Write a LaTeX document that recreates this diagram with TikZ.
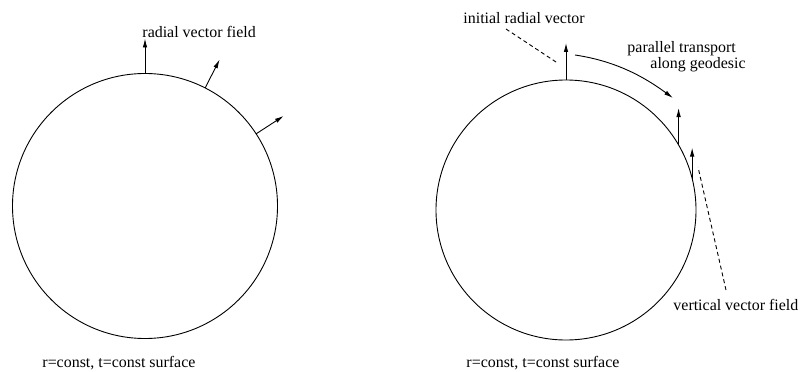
\documentclass[tikz,border=0pt]{standalone}
\usepackage{fontspec}
\setmainfont{Liberation Serif}
\usetikzlibrary{arrows.meta}

\begin{document}
\begin{tikzpicture}[
    x=1bp, y=1bp,
    line width=0.9bp,
    font=\fontsize{16}{19}\selectfont,
    surf/.style = {draw, circle, inner sep=0pt, outer sep=0pt},
    lbl/.style  = {inner sep=0pt, anchor=base west},
    arr/.style  = {-{Latex[length=9bp, width=4.5bp]}},
    lead/.style = {dash pattern=on 4bp off 3bp},
]
\useasboundingbox (0,0) rectangle (800,371);

% ============ left: radial vector field ============
\node[surf, minimum size=265bp] (lsurf) at (145,165) {};

\coordinate (ltop) at ([shift={(90:35)}]lsurf.90);
\coordinate (lmid) at ([shift={(63:32)}]lsurf.63);
\coordinate (lrgt) at ([shift={(33:33)}]lsurf.33);

\draw[arr] (lsurf.90) -- (ltop);
\draw[arr] (lsurf.63) -- (lmid);
\draw[arr] (lsurf.33) -- (lrgt);

\node[lbl] (lradial) at (142,334) {radial vector field};
\node[lbl] (lsurflbl) at (42,4) {r=const, t=const surface};

% ============ right: parallel transport ============
\node[surf, minimum size=260bp] (rsurf) at (566,161) {};

\coordinate (rtop) at ([yshift=37bp]rsurf.90);
\coordinate (rmid) at ([yshift=37bp]rsurf.30.5);
\coordinate (rrgt) at ([yshift=31bp]rsurf.14.2);

\draw[arr] (rsurf.90) -- (rtop);
\draw[arr] (rsurf.30.5) -- (rmid);
\draw[arr] (rsurf.14.2) -- (rrgt);

% transport along the geodesic
\coordinate (ptfrom) at (575,316);
\coordinate (ptto) at (673,273);
\draw[arr] (ptfrom) .. controls (615,310) and (643,295) .. (ptto);

\node[lbl] (initlbl) at (463,348) {initial radial vector};
\node[lbl] (ptlbl) at (627,319) {parallel transport};
\node[lbl] (geolbl) at (650,303) {along geodesic};
\node[lbl] (vertlbl) at (673,61) {vertical vector field};
\node[lbl] (rsurflbl) at (466,4) {r=const, t=const surface};

% leaders
\coordinate (initend) at (556,309);
\coordinate (vertend) at (698,204);
\draw[lead] ([xshift=43bp, yshift=-6bp]initlbl.base west) -- (initend);
\draw[lead] ([xshift=53bp, yshift=20bp]vertlbl.base west) -- (vertend);

\end{tikzpicture}
\end{document}
